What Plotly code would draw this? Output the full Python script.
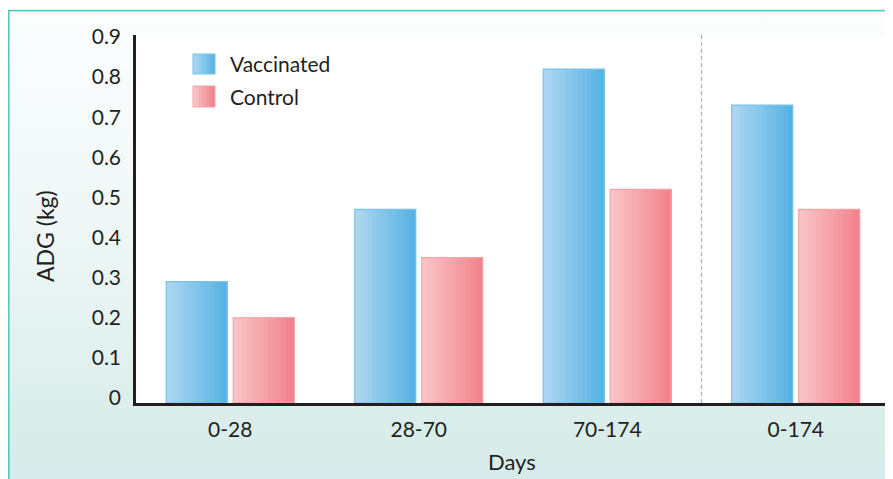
import base64
import plotly.graph_objects as go

# ---------------- data ----------------
categories = ["0-28", "28-70", "70-174", "0-174"]
vaccinated = [0.29, 0.47, 0.82, 0.73]
control = [0.20, 0.35, 0.52, 0.47]
series_names = ["Vaccinated", "Control"]
ytick_vals = [0, 0.1, 0.2, 0.3, 0.4, 0.5, 0.6, 0.7, 0.8, 0.9]
ytick_text = ["0", "0.1", "0.2", "0.3", "0.4", "0.5", "0.6", "0.7", "0.8", "0.9"]
x_title = "Days"
y_title = "ADG (kg)"

# ---------------- layout constants ----------------
# the page body has an 8px margin, so the figure starts at (8, 8) of the window
OFF = 8
W, H = 893 - OFF, 479 - OFF
PL, PR, PT, PB = 136, 890, 35, 403          # plot area in window pixels
ML, MR, MT, MB = PL - OFF, 893 - PR, PT - OFF, 479 - PB
PW, PH = PR - PL, PB - PT
FLOOR, TOP = -0.0125, 0.905
FONT = "Lato"
INK = "#231f20"

BAR_W = 0.3236
OFFSETS = [-0.3395, 0.016]
GRAD = [("#abd6f1", "#58b3e4"), ("#f9c4c6", "#f2838d")]
EDGE = ["#79c2ea", "#f5a2a8"]
N = 14


def px(x):
    return (x - PL) / PW


def py(y):
    return (PB - y) / PH


def mix(c1, c2, t):
    a = [int(c1[i:i + 2], 16) for i in (1, 3, 5)]
    b = [int(c2[i:i + 2], 16) for i in (1, 3, 5)]
    return "#%02x%02x%02x" % tuple(round(a[k] + (b[k] - a[k]) * t) for k in range(3))


fig = go.Figure()

for s, vals in enumerate([vaccinated, control]):
    c_left, c_right = GRAD[s]
    heights = [v - FLOOR for v in vals]
    for i in range(N):
        fig.add_trace(go.Bar(
            x=categories, y=heights, base=FLOOR,
            offset=OFFSETS[s] + i * BAR_W / N,
            width=BAR_W * (1 - i / N),
            marker=dict(color=mix(c_left, c_right, i / (N - 1)), line=dict(width=0)),
            showlegend=False, hoverinfo="skip",
        ))
    fig.add_trace(go.Bar(
        x=categories, y=heights, base=FLOOR, name=series_names[s],
        offset=OFFSETS[s], width=BAR_W,
        marker=dict(color="rgba(0,0,0,0)", line=dict(color=EDGE[s], width=1.2)),
        showlegend=False,
        customdata=vals, hovertemplate="%{x}: %{customdata}<extra>" + series_names[s] + "</extra>",
    ))

# background gradient + frame as an SVG image (figure pixel coordinates)
svg = f"""<svg xmlns='http://www.w3.org/2000/svg' width='{W}' height='{H}' viewBox='0 0 {W} {H}' preserveAspectRatio='none'>
<defs><linearGradient id='g' x1='0' y1='0' x2='0' y2='1'>
<stop offset='0' stop-color='#fcfefe'/><stop offset='0.45' stop-color='#eef7f6'/><stop offset='0.85' stop-color='#d9edeb'/><stop offset='1' stop-color='#d6ebe9'/>
</linearGradient></defs>
<rect width='{W}' height='{H}' fill='#ffffff'/>
<rect x='0.8' y='2.6' width='{W + 20}' height='{H + 20}' fill='url(#g)' stroke='#55c8bd' stroke-width='1.6'/>
</svg>"""
src = "data:image/svg+xml;base64," + base64.b64encode(svg.encode()).decode()

shapes = [
    dict(type="rect", xref="paper", yref="paper", x0=0, x1=1, y0=0, y1=1,
         fillcolor="white", line=dict(width=0), layer="below"),
    dict(type="line", xref="x", yref="paper", x0=2.5, x1=2.5, y0=0, y1=py(32),
         line=dict(color="#b5b5b5", width=1.3, dash="4px,3px"), layer="below"),
]
annotations = []
# legend swatches (gradient) and labels
sw = [(54, 74), (86, 107)]
for s in range(2):
    y0, y1 = sw[s]
    c_left, c_right = GRAD[s]
    M = 8
    for i in range(M):
        x0 = 193 + i * 22 / M
        shapes.append(dict(type="rect", xref="paper", yref="paper",
                           x0=px(x0), x1=px(215), y0=py(y1), y1=py(y0),
                           fillcolor=mix(c_left, c_right, i / (M - 1)), line=dict(width=0)))
    shapes.append(dict(type="rect", xref="paper", yref="paper",
                       x0=px(193), x1=px(215), y0=py(y1), y1=py(y0),
                       line=dict(color=EDGE[s], width=1)))
    annotations.append(dict(text=series_names[s], xref="paper", yref="paper",
                            x=px(228), y=py((y0 + y1) / 2), xanchor="left", yanchor="middle",
                            showarrow=False, font=dict(family=FONT, size=21, color=INK)))

annotations.append(dict(text=y_title, xref="paper", yref="paper", x=px(45), y=py(236),
                        textangle=-90, xanchor="center", yanchor="middle", showarrow=False,
                        font=dict(family=FONT, size=23, color=INK)))
annotations.append(dict(text=x_title, xref="paper", yref="paper", x=px(512), y=py(461),
                        xanchor="center", yanchor="middle", showarrow=False,
                        font=dict(family=FONT, size=22, color=INK)))

fig.update_layout(
    width=W, height=H,
    margin=dict(l=ML, r=MR, t=MT, b=MB, pad=0),
    barmode="overlay",
    paper_bgcolor="white", plot_bgcolor="white",
    showlegend=False,
    images=[dict(source=src, xref="paper", yref="paper", x=px(OFF), y=py(OFF),
                 sizex=W / PW, sizey=H / PH, xanchor="left", yanchor="top",
                 sizing="stretch", layer="below")],
    shapes=shapes, annotations=annotations,
    xaxis=dict(range=[-0.5, 3.5], showgrid=False, zeroline=False, ticks="",
               showline=True, linecolor=INK, linewidth=2.5,
               tickfont=dict(family=FONT, size=21, color=INK), ticklabelstandoff=6,
               fixedrange=True),
    yaxis=dict(range=[FLOOR, TOP], showgrid=False, zeroline=False, ticks="",
               tickvals=ytick_vals, ticktext=ytick_text,
               showline=True, linecolor=INK, linewidth=2.5,
               tickfont=dict(family=FONT, size=21, color=INK), ticklabelstandoff=8,
               fixedrange=True),
)

fig.write_html("out.html")
